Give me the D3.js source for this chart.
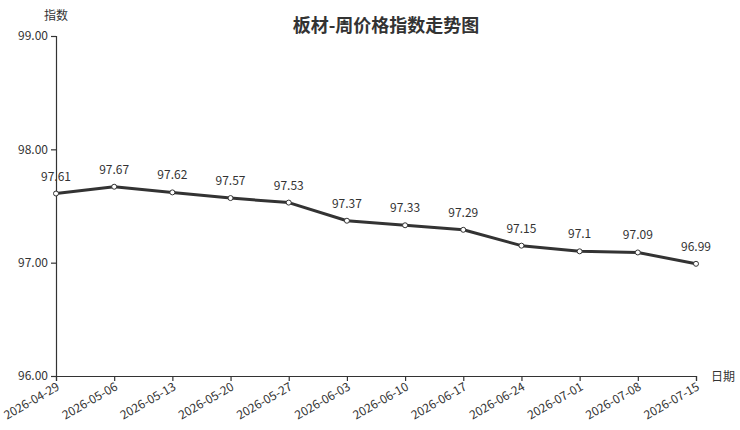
<!DOCTYPE html>
<html><head><meta charset="utf-8">
<script src="https://cdn.jsdelivr.net/npm/d3@7"></script>
<style>body{margin:0;background:#fff;} text{font-family:"Noto Sans CJK SC","Noto Sans",sans-serif;}</style>
</head><body><svg id="c" width="740" height="430"></svg>
<script>
const dates = ["2026-04-29","2026-05-06","2026-05-13","2026-05-20","2026-05-27","2026-06-03","2026-06-10","2026-06-17","2026-06-24","2026-07-01","2026-07-08","2026-07-15"];
const values = [97.61,97.67,97.62,97.57,97.53,97.37,97.33,97.29,97.15,97.1,97.09,96.99];
const yTicks = [96,97,98,99];
const title = "板材-周价格指数走势图";

const svg = d3.select("#c");
const m = {l:56, r:44, t:36, b:54};
const W = 740, H = 430;
const x = d3.scalePoint().domain(dates).range([m.l, W - m.r]);
const y = d3.scaleLinear().domain([96,99]).range([H - m.b, m.t]);
const col = "#333";

const yAx = svg.append("g").attr("transform",`translate(${m.l},0)`)
  .call(d3.axisLeft(y).tickValues(yTicks).tickFormat(d3.format(".2f")).tickSizeOuter(0).tickSize(5));
yAx.selectAll("text").attr("font-size",12).attr("fill",col);
yAx.selectAll("line,path").attr("stroke",col).attr("stroke-width",1.2);

const xAx = svg.append("g").attr("transform",`translate(0,${H-m.b})`)
  .call(d3.axisBottom(x).tickSizeOuter(0).tickSize(5));
xAx.selectAll("line,path").attr("stroke",col).attr("stroke-width",1.2);
xAx.selectAll("text").attr("font-size",12).attr("fill",col)
  .attr("text-anchor","end").attr("dy","0.3em").attr("dx","0")
  .attr("transform","translate(-2,3) rotate(-30)");

svg.append("text").attr("x",56).attr("y",20).attr("text-anchor","middle")
  .attr("font-size",12).attr("fill",col).text("指数");
svg.append("text").attr("x",723).attr("y",381).attr("text-anchor","middle")
  .attr("font-size",12).attr("fill",col).text("日期");
svg.append("text").attr("x",386).attr("y",32).attr("text-anchor","middle")
  .attr("font-size",18).attr("font-weight","bold").attr("fill",col).text(title);

const line = d3.line().x((d,i)=>x(dates[i])).y(d=>y(d));
svg.append("path").datum(values).attr("d",line).attr("fill","none")
  .attr("stroke",col).attr("stroke-width",3).attr("stroke-linejoin","round");
svg.selectAll("circle.p").data(values).join("circle")
  .attr("cx",(d,i)=>x(dates[i])).attr("cy",d=>y(d)).attr("r",2.5)
  .attr("fill","#fff").attr("stroke",col).attr("stroke-width",1);
svg.selectAll("text.v").data(values).join("text").attr("class","v")
  .attr("x",(d,i)=>x(dates[i])).attr("y",d=>y(d)-13).attr("text-anchor","middle")
  .attr("font-size",12).attr("fill",col).text(d=>d);
</script></body></html>
